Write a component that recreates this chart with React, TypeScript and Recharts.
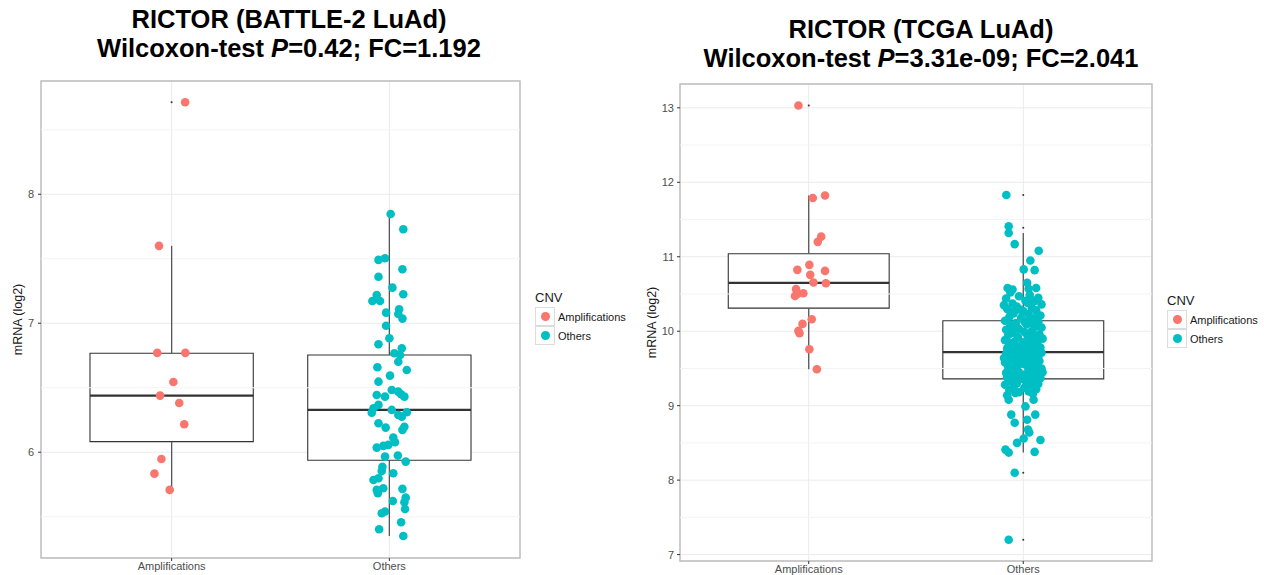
import React from "react";
import {
  ComposedChart,
  Scatter,
  XAxis,
  YAxis,
  CartesianGrid,
  ReferenceArea,
  ReferenceLine,
  Legend,
} from "recharts";

const FONT = "'Liberation Sans', Arial, Helvetica, sans-serif";

const categories = ["Amplifications", "Others"];
const cnvColors = ["#F8766D", "#00BFC4"];

// BATTLE-2 LuAd
const battleAmpValues = [8.713, 7.6, 6.77, 6.77, 6.545, 6.439, 6.382, 6.217, 5.948, 5.834, 5.708];
const battleAmpJitter = [0.062, -0.058, -0.066, 0.063, 0.008, -0.053, 0.035, 0.058, -0.047, -0.079, -0.009];
const battleOthersValues = [
  7.847, 7.729, 7.491, 7.504, 7.419, 7.361, 7.276, 7.219, 7.173, 7.173,
  7.225, 7.082, 7.108, 7.072, 7.036, 6.981, 6.884, 6.837, 6.806, 6.767,
  6.754, 6.702, 6.659, 6.638, 6.547, 6.594, 6.444, 6.431, 6.483, 6.47,
  6.431, 6.45, 6.367, 6.341, 6.307, 6.328, 6.289, 6.276, 6.31, 6.225,
  6.191, 6.198, 6.173, 6.113, 6.078, 6.036, 6.049, 6.057, 5.974, 5.966,
  5.927, 5.888, 5.855, 5.837, 5.785, 5.798, 5.708, 5.721, 5.682, 5.716,
  5.648, 5.622, 5.612, 5.56, 5.527, 5.54, 5.457, 5.403, 5.35,
];
const battleOthersJitter = [
  0.006, 0.064, -0.05, -0.02, 0.06, -0.05, 0.014, -0.058, -0.078, -0.043,
  0.064, -0.015, 0.045, 0.041, 0.06, -0.015, 0.0, -0.05, 0.057, 0.023,
  0.049, 0.041, -0.055, 0.08, -0.05, 0.003, -0.058, -0.02, 0.011, 0.041,
  0.069, 0.054, -0.05, -0.073, -0.081, 0.011, 0.041, 0.057, 0.08, -0.05,
  -0.017, 0.069, 0.06, 0.018, 0.026, -0.058, -0.028, -0.005, 0.039, -0.02,
  0.075, -0.032, -0.035, 0.018, -0.073, -0.05, -0.058, -0.028, -0.053, 0.06,
  0.075, 0.016, 0.069, 0.072, -0.035, -0.02, 0.054, -0.047, 0.064,
];
const battleQ1 = [6.082, 5.938];
const battleMedian = [6.439, 6.328];
const battleQ3 = [6.767, 6.754];
const battleWhiskerLow = [5.708, 5.35];
const battleWhiskerHigh = [7.6, 7.847];
const battleOutliers = [[8.713], []];
const battleDomain: [number, number] = [5.18, 8.878];
const battleTicks = [6, 7, 8];
const battleMinor = [5.5, 6.5, 7.5, 8.5];

// TCGA LuAd
const tcgaAmpValues = [
  13.032, 11.788, 11.823, 11.27, 11.2, 10.891, 10.824, 10.81, 10.757, 10.654,
  10.645, 10.565, 10.501, 10.51, 10.474, 10.161, 10.098, 10.004, 9.973, 9.758, 9.489,
];
const tcgaAmpJitter = [
  -0.048, 0.019, 0.076, 0.058, 0.042, 0.003, -0.053, 0.076, 0.007, 0.022,
  0.08, -0.059, -0.053, -0.025, -0.064, 0.014, -0.029, -0.048, -0.043, 0.003, 0.038,
];
const tcgaOthersValues = [
  11.83, 11.41, 11.32, 11.17, 11.08, 10.95, 10.83, 10.82, 10.65, 10.58, 10.56, 10.58, 10.57,
  10.52, 10.49, 10.47, 10.45, 10.44, 10.41, 10.4, 10.38, 10.37, 10.36,
  10.33, 10.31, 10.3, 10.28, 10.27, 10.26, 10.24, 10.23, 10.21, 10.19,
  10.18, 10.17, 10.15, 10.14, 10.12, 10.11, 10.1, 10.09, 10.08, 10.06,
  10.05, 10.03, 10.02, 10.0, 9.99, 9.98, 9.97, 9.96, 9.95, 9.94,
  9.92, 9.91, 9.9, 9.89, 9.88, 9.87, 9.86, 9.85, 9.83, 9.82,
  9.81, 9.8, 9.79, 9.78, 9.77, 9.76, 9.74, 9.73, 9.72, 9.71,
  9.7, 9.69, 9.68, 9.66, 9.65, 9.64, 9.63, 9.62, 9.61, 9.6,
  9.59, 9.58, 9.57, 9.56, 9.55, 9.54, 9.53, 9.52, 9.5, 9.49,
  9.48, 9.47, 9.46, 9.45, 9.44, 9.43, 9.42, 9.4, 9.39, 9.38,
  9.37, 9.36, 9.35, 9.34, 9.33, 9.32, 9.3, 9.29, 9.28, 9.27,
  9.25, 9.24, 9.22, 9.21, 9.19, 9.18, 9.16, 9.14,
  10.43, 10.29, 10.2, 10.13, 10.04, 9.93, 9.84, 9.75, 9.67, 9.58,
  9.51, 9.41, 10.35, 10.07, 9.97, 9.8, 9.64, 9.45,
  9.08, 9.17, 9.08, 8.99, 8.88, 8.88, 8.77, 8.81, 8.68, 8.64,
  8.56, 8.5, 8.54, 8.41, 8.37, 8.38, 8.1, 7.2,
];
const tcgaOthersJitter = [
  -0.079, -0.068, -0.068, -0.04, 0.072, 0.033, 0.002, 0.053, 0.018, -0.073, -0.05, 0.06, 0.025,
  -0.06, 0.03, -0.02, 0.07, -0.08, 0.01, 0.05, 0.02, -0.05, 0.085,
  -0.03, 0.04, -0.075, 0.06, 0.0, -0.06, -0.045, 0.025, 0.08, -0.065,
  -0.01, 0.05, 0.03, -0.085, 0.07, -0.035, 0.04, 0.015, -0.06, 0.055,
  0.085, -0.02, -0.08, 0.04, 0.005, -0.05, -0.06, 0.075, -0.07, 0.02,
  -0.025, 0.06, 0.09, 0.05, -0.085, 0.035, -0.04, 0.0, 0.065, -0.06,
  0.045, 0.01, -0.015, 0.08, -0.075, 0.02, -0.045, 0.055, -0.005, 0.085,
  -0.08, 0.03, -0.03, 0.07, -0.065, 0.01, 0.045, -0.025, -0.05, 0.075,
  -0.01, -0.085, 0.035, 0.0, 0.06, -0.035, 0.02, -0.07, 0.085, 0.025,
  -0.055, 0.05, 0.03, -0.02, -0.08, 0.065, 0.01, -0.045, 0.04, -0.075,
  0.08, -0.005, -0.03, 0.055, -0.06, 0.02, -0.03, 0.07, -0.085, 0.035,
  -0.045, 0.005, 0.06, -0.065, 0.025, -0.02, 0.045, -0.075,
  0.035, -0.015, 0.065, 0.005, -0.04, 0.045, -0.065, 0.035, -0.01, 0.05,
  -0.03, 0.075, -0.09, 0.06, 0.03, -0.05, -0.09, 0.09,
  -0.068, -0.037, 0.048, 0.01, -0.056, 0.056, -0.04, 0.018, 0.022, 0.028,
  0.002, -0.029, 0.08, -0.083, -0.068, 0.053, -0.04, -0.068,
];
const tcgaQ1 = [10.31, 9.36];
const tcgaMedian = [10.65, 9.72];
const tcgaQ3 = [11.04, 10.14];
const tcgaWhiskerLow = [9.489, 8.37];
const tcgaWhiskerHigh = [11.823, 11.32];
const tcgaOutliers = [[13.032], [11.83, 11.39, 8.1, 7.2]];
const tcgaDomain: [number, number] = [6.914, 13.32];
const tcgaTicks = [7, 8, 9, 10, 11, 12, 13];
const tcgaMinor = [7.5, 8.5, 9.5, 10.5, 11.5, 12.5];

const toPoints = (center: number, values: number[], jitter: number[]) =>
  values.map((y, i) => ({ x: center + jitter[i], y }));

const CnvLegend = () => (
  <div style={{ fontFamily: FONT, color: "#1a1a1a" }}>
    <div style={{ fontSize: 13, lineHeight: "15px", marginBottom: 2 }}>CNV</div>
    {categories.map((c, i) => (
      <div key={c} style={{ display: "flex", alignItems: "center", height: 19 }}>
        <div
          style={{
            width: 20,
            height: 19,
            boxSizing: "border-box",
            border: "1px solid #dcdcdc",
            display: "flex",
            alignItems: "center",
            justifyContent: "center",
          }}
        >
          <div style={{ width: 9, height: 9, borderRadius: "50%", background: cnvColors[i] }} />
        </div>
        <span style={{ fontSize: 11, marginLeft: 3 }}>{c}</span>
      </div>
    ))}
  </div>
);

interface PanelProps {
  left: number;
  yAxisWidth: number;
  marginTop: number;
  xAxisHeight: number;
  domain: [number, number];
  ticks: number[];
  minor: number[];
  ampValues: number[];
  ampJitter: number[];
  othersValues: number[];
  othersJitter: number[];
  q1: number[];
  median: number[];
  q3: number[];
  whiskerLow: number[];
  whiskerHigh: number[];
  outliers: number[][];
  labelOffset: number;
  legendTop: number;
  tickMargin: number;
}

const Dot = (color: string, r: number) => (props: any) =>
  <circle cx={props.cx} cy={props.cy} r={r} fill={color} />;

const Panel: React.FC<PanelProps> = (p) => {
  const ampPoints = toPoints(1, p.ampValues, p.ampJitter);
  const othersPoints = toPoints(2, p.othersValues, p.othersJitter);
  const outlierPoints = p.outliers.flatMap((vals, i) => vals.map((y) => ({ x: i + 1, y })));
  const tickStyle = { fontSize: 11, fill: "#4d4d4d", fontFamily: FONT };
  return (
    <div style={{ position: "absolute", left: p.left, top: 0 }}>
      <ComposedChart
        width={632}
        height={575}
        margin={{ top: p.marginTop, right: 112, bottom: 0, left: 0 }}
      >
        <CartesianGrid stroke="#ebebeb" strokeWidth={1} />
        {p.minor.map((v) => (
          <ReferenceLine key={`m-${v}`} y={v} stroke="#f4f4f4" strokeWidth={1} />
        ))}
        <XAxis
          type="number"
          dataKey="x"
          domain={[0.4, 2.6]}
          ticks={[1, 2]}
          tickFormatter={(v: number) => categories[v - 1]}
          height={p.xAxisHeight}
          axisLine={false}
          tickSize={3}
          tickMargin={1}
          tickLine={{ stroke: "#333333" }}
          tick={tickStyle}
          allowDataOverflow
        />
        <YAxis
          type="number"
          dataKey="y"
          domain={p.domain}
          ticks={p.ticks}
          width={p.yAxisWidth}
          axisLine={false}
          tickSize={3}
          tickMargin={p.tickMargin}
          tickLine={{ stroke: "#333333" }}
          tick={tickStyle}
          allowDataOverflow
          label={{
            value: "mRNA (log2)",
            angle: -90,
            position: "insideLeft",
            offset: p.labelOffset,
            style: { textAnchor: "middle", fontSize: 12.5, fill: "#1a1a1a", fontFamily: FONT },
          }}
        />
        {[0, 1].map((i) => (
          <ReferenceArea
            key={`box-${i}`}
            x1={i + 1 - 0.375}
            x2={i + 1 + 0.375}
            y1={p.q1[i]}
            y2={p.q3[i]}
            fill="#ffffff"
            fillOpacity={1}
            stroke="#333333"
            strokeWidth={1.1}
          />
        ))}
        {[0, 1].map((i) => (
          <ReferenceLine
            key={`wh-${i}`}
            segment={[
              { x: i + 1, y: p.q3[i] },
              { x: i + 1, y: p.whiskerHigh[i] },
            ]}
            stroke="#555555"
            strokeWidth={1.3}
          />
        ))}
        {[0, 1].map((i) => (
          <ReferenceLine
            key={`wl-${i}`}
            segment={[
              { x: i + 1, y: p.whiskerLow[i] },
              { x: i + 1, y: p.q1[i] },
            ]}
            stroke="#555555"
            strokeWidth={1.3}
          />
        ))}
        {[0, 1].map((i) => (
          <ReferenceLine
            key={`md-${i}`}
            segment={[
              { x: i + 1 - 0.375, y: p.median[i] },
              { x: i + 1 + 0.375, y: p.median[i] },
            ]}
            stroke="#333333"
            strokeWidth={2.3}
          />
        ))}
        <ReferenceArea
          x1={0.4}
          x2={2.6}
          y1={p.domain[0]}
          y2={p.domain[1]}
          fill="none"
          stroke="#bdbdbd"
          strokeWidth={1.4}
        />
        <Scatter data={outlierPoints} shape={Dot("#333333", 1)} isAnimationActive={false} />
        <Scatter data={ampPoints} shape={Dot(cnvColors[0], 4.3)} isAnimationActive={false} />
        <Scatter data={othersPoints} shape={Dot(cnvColors[1], 4.3)} isAnimationActive={false} />
        <Legend
          layout="horizontal"
          verticalAlign="middle"
          align="center"
          content={() => <CnvLegend />}
          wrapperStyle={{ left: 535, top: p.legendTop, width: "auto", height: "auto" }}
        />
      </ComposedChart>
    </div>
  );
};

const titleStyle: React.CSSProperties = {
  position: "absolute",
  fontFamily: FONT,
  fontWeight: "bold",
  fontSize: 25.5,
  lineHeight: "29px",
  textAlign: "center",
  color: "#000",
  whiteSpace: "nowrap",
};

export default function App() {
  return (
    <div style={{ position: "absolute", left: 0, top: 0, width: 1264, height: 575, background: "#fff", overflow: "hidden" }}>
      <Panel
        left={0}
        yAxisWidth={41}
        marginTop={81}
        xAxisHeight={17}
        domain={battleDomain}
        ticks={battleTicks}
        minor={battleMinor}
        ampValues={battleAmpValues}
        ampJitter={battleAmpJitter}
        othersValues={battleOthersValues}
        othersJitter={battleOthersJitter}
        q1={battleQ1}
        median={battleMedian}
        q3={battleQ3}
        whiskerLow={battleWhiskerLow}
        whiskerHigh={battleWhiskerHigh}
        outliers={battleOutliers}
        labelOffset={18}
        legendTop={290}
        tickMargin={4}
      />
      <Panel
        left={632}
        yAxisWidth={48}
        marginTop={84}
        xAxisHeight={14}
        domain={tcgaDomain}
        ticks={tcgaTicks}
        minor={tcgaMinor}
        ampValues={tcgaAmpValues}
        ampJitter={tcgaAmpJitter}
        othersValues={tcgaOthersValues}
        othersJitter={tcgaOthersJitter}
        q1={tcgaQ1}
        median={tcgaMedian}
        q3={tcgaQ3}
        whiskerLow={tcgaWhiskerLow}
        whiskerHigh={tcgaWhiskerHigh}
        outliers={tcgaOutliers}
        labelOffset={20}
        legendTop={293}
        tickMargin={3}
      />
      <div style={{ ...titleStyle, left: 0, width: 578, top: 5 }}>
        RICTOR (BATTLE-2 LuAd)
        <br />
        Wilcoxon-test <i>P</i>=0.42; FC=1.192
      </div>
      <div style={{ ...titleStyle, left: 621, width: 600, top: 15 }}>
        RICTOR (TCGA LuAd)
        <br />
        Wilcoxon-test <i>P</i>=3.31e-09; FC=2.041
      </div>
    </div>
  );
}
